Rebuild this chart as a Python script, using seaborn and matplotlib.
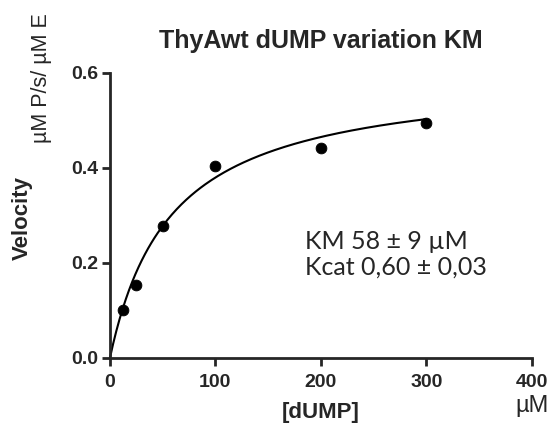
import numpy as np
import pandas as pd
import seaborn as sns
import matplotlib.pyplot as plt

# measured points
dump_conc = [12.5, 25, 50, 100, 200, 300]
velocity = [0.100, 0.153, 0.277, 0.405, 0.441, 0.494]

# fit parameters (from the annotation)
km = 58
kcat = 0.60

df = pd.DataFrame({'dUMP': dump_conc, 'Velocity': velocity})
fit_x = np.linspace(0, 300, 200)
fit = pd.DataFrame({'dUMP': fit_x, 'Velocity': kcat * fit_x / (km + fit_x)})

sns.set_style('ticks')
plt.rcParams['font.family'] = ['Liberation Sans', 'DejaVu Sans']

fig = plt.figure(figsize=(5.58, 4.28), dpi=100)
ax = fig.add_axes([0.197, 0.1636, 0.756, 0.666])

sns.lineplot(x='dUMP', y='Velocity', data=fit, color='black', linewidth=1.5, ax=ax)
sns.scatterplot(x='dUMP', y='Velocity', data=df, color='black', s=60,
                edgecolor='black', ax=ax, zorder=3)

ax.set_xlim(0, 400)
ax.set_ylim(0, 0.6)
ax.set_xticks([0, 100, 200, 300, 400])
ax.set_yticks([0.0, 0.2, 0.4, 0.6])
ax.set_yticklabels(['0.0', '0.2', '0.4', '0.6'])
ax.tick_params(width=2, length=5.5, labelsize=14, pad=3)
ax.tick_params(axis='x', pad=6)
for lab in ax.get_xticklabels() + ax.get_yticklabels():
    lab.set_fontweight('bold')
for sp in ['left', 'bottom']:
    ax.spines[sp].set_linewidth(2)
sns.despine(ax=ax)
for c in ax.collections + ax.lines:
    c.set_clip_on(False)

ax.set_xlabel('[dUMP]', fontsize=16, fontweight='bold', labelpad=8)
ax.set_ylabel('')
fig.text(0.04, 0.49, 'Velocity', rotation=90, fontsize=16, fontweight='bold',
         ha='center', va='center')
fig.text(0.075, 0.818, 'µM P/s/ µM E', rotation=90, fontsize=15.5,
         ha='center', va='center')
fig.text(0.953, 0.051, 'µM', fontsize=17, ha='center', va='center')

ax.set_title('ThyAwt dUMP variation KM', fontsize=18, fontweight='bold', pad=18)

ax.text(0.462, 0.41, 'KM 58 ± 9 µM', transform=ax.transAxes, fontsize=18,
        va='center', family=['Lato', 'DejaVu Sans'])
ax.text(0.462, 0.319, 'Kcat 0,60 ± 0,03', transform=ax.transAxes, fontsize=18,
        va='center', family=['Lato', 'DejaVu Sans'])

fig.savefig('out.png', dpi=100)
